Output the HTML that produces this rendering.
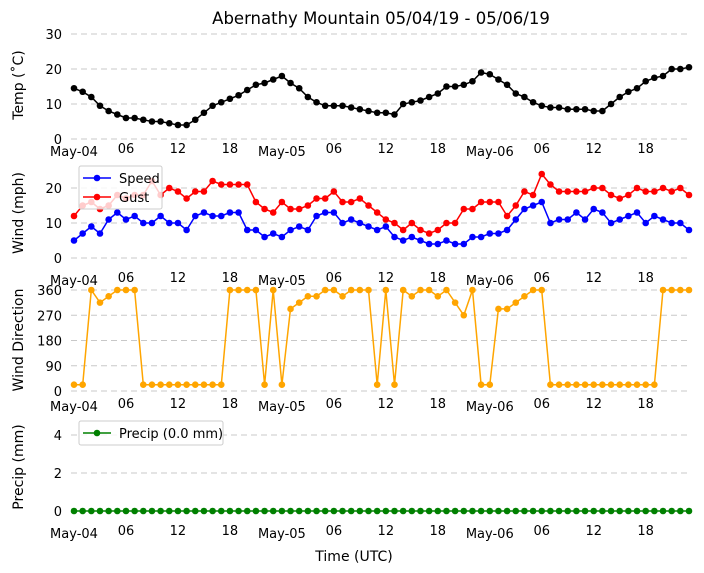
<!DOCTYPE html>
<html><head><meta charset="utf-8"><style>
html,body{margin:0;padding:0;background:#fff;}
svg{display:block;font-family:"DejaVu Sans","Liberation Sans",sans-serif;}
</style></head><body>
<svg id="c" width="704" height="573" viewBox="0 0 704 573" xmlns="http://www.w3.org/2000/svg">
<text x="381" y="24" font-size="16.5" text-anchor="middle">Abernathy Mountain 05/04/19 - 05/06/19</text>
<text x="354" y="561" font-size="14" text-anchor="middle">Time (UTC)</text>
</svg>
<script>
const temp=[14.5,13.5,12,9.5,8,7,6,6,5.5,5,5,4.5,4,4,5.5,7.5,9.5,10.5,11.5,12.5,14,15.5,16,17,18,16,14.5,12,10.5,9.5,9.5,9.5,9,8.5,8,7.5,7.5,7,10,10.5,11,12,13,15,15,15.5,16.5,19,18.5,17,15.5,13,12,10.5,9.5,9,9,8.5,8.5,8.5,8,8,10,12,13.5,14.5,16.5,17.5,18,20,20,20.5];
const speed=[5,7,9,7,11,13,11,12,10,10,12,10,10,8,12,13,12,12,13,13,8,8,6,7,6,8,9,8,12,13,13,10,11,10,9,8,9,6,5,6,5,4,4,5,4,4,6,6,7,7,8,11,14,15,16,10,11,11,13,11,14,13,10,11,12,13,10,12,11,10,10,8];
const gust=[12,15,16,14,15,18,17,18,18,22,18,20,19,17,19,19,22,21,21,21,21,16,14,13,16,14,14,15,17,17,19,16,16,17,15,13,11,10,8,10,8,7,8,10,10,14,14,16,16,16,12,15,19,18,24,21,19,19,19,19,20,20,18,17,18,20,19,19,20,19,20,18];
const dir=[22.5,22.5,360,315,337.5,360,360,360,22.5,22.5,22.5,22.5,22.5,22.5,22.5,22.5,22.5,22.5,360,360,360,360,22.5,360,22.5,292.5,315,337.5,337.5,360,360,337.5,360,360,360,22.5,360,22.5,360,337.5,360,360,337.5,360,315,270,360,22.5,22.5,292.5,292.5,315,337.5,360,360,22.5,22.5,22.5,22.5,22.5,22.5,22.5,22.5,22.5,22.5,22.5,22.5,22.5,360,360,360,360];
const precip=new Array(72).fill(0);
const tickHours=[0,6,12,18,24,30,36,42,48,54,60,66];
const tickLabels=["May-04","06","12","18","May-05","06","12","18","May-06","06","12","18"];
const tempTicks=[0,10,20,30], windTicks=[0,10,20], dirTicks=[0,90,180,270,360], precipTicks=[0,2,4];

const svg=document.getElementById('c');
const NS='http://www.w3.org/2000/svg';
const X=h=>74+h*(615/71);
function el(tag,attrs,parent){const e=document.createElementNS(NS,tag);for(const k in attrs)e.setAttribute(k,attrs[k]);(parent||svg).appendChild(e);return e;}

const panels=[
 {name:'temp',y0:139,k:3.5,ticks:tempTicks,label:'Temp (˚C)',ly:85,xl:153},
 {name:'wind',y0:258,k:3.5,ticks:windTicks,label:'Wind (mph)',ly:213,xl:282},
 {name:'direction',y0:391,k:101/360,ticks:dirTicks,label:'Wind Direction',ly:340,xl:408},
 {name:'precip',y0:511,k:19,ticks:precipTicks,label:'Precip (mm)',ly:467,xl:535}
];
panels.forEach(p=>{
 const g=el('g',{});
 
 
 p.Y=v=>p.y0-v*p.k;
 p.ticks.forEach(t=>{
  const y=p.Y(t);
  const l=el('line',{x1:71,x2:691,y1:y,y2:y,stroke:'#c8c8c8','stroke-dasharray':'6,4','stroke-width':1},g);
  
  
  const tx=el('text',{x:62,y:y+5,'font-size':13,'text-anchor':'end'},g);
  tx.textContent=t;
  
  
 });
 tickHours.forEach((h,i)=>{
  const major=tickLabels[i].length>2;
  const tx=el('text',{x:X(h),y:p.xl+(major?3:0),'font-size':13,'text-anchor':'middle'},g);
  tx.textContent=tickLabels[i];
  
  
 });
 const yl=el('text',{x:0,y:0,'font-size':14,'text-anchor':'middle',transform:`translate(23,${p.ly}) rotate(-90)`},g);
 yl.textContent=p.label;
 
 
});
function series(vals,p,color,name){
 const g=el('g',{});
 
 
 const pts=vals.map((v,i)=>X(i).toFixed(1)+','+p.Y(v).toFixed(1)).join(' ');
 const pl=el('polyline',{points:pts,fill:'none',stroke:color,'stroke-width':1.5},g);
 
 
 vals.forEach((v,i)=>{
  const c=el('circle',{cx:X(i),cy:p.Y(v),r:3.3,fill:color},g);
  
  
 });
}
series(temp,panels[0],'#000','temp');
series(gust,panels[1],'#ff0000','gust');
series(speed,panels[1],'#0000ff','speed');
series(dir,panels[2],'#ffa500','direction');
series(precip,panels[3],'#008000','precip');

function legend(x,y,w,entries,name){
 const g=el('g',{});
 
 
 el('rect',{x:x,y:y,width:w,height:entries.length*19+5,fill:'#fff','fill-opacity':0.8,stroke:'#ccc',rx:2},g);
 entries.forEach((e,i)=>{
  const cy=y+12+i*19;
  el('line',{x1:x+4,x2:x+32,y1:cy,y2:cy,stroke:e[1],'stroke-width':1.5},g);
  el('circle',{cx:x+18,cy:cy,r:3.3,fill:e[1]},g);
  const t=el('text',{x:x+40,y:cy+5,'font-size':13},g);
  t.textContent=e[0];
  
  
 });
}
legend(79,166,83,[['Speed','#0000ff'],['Gust','#ff0000']],'wind-legend');
legend(79,421,144,[['Precip (0.0 mm)','#008000']],'precip-legend');
</script>
</body></html>
